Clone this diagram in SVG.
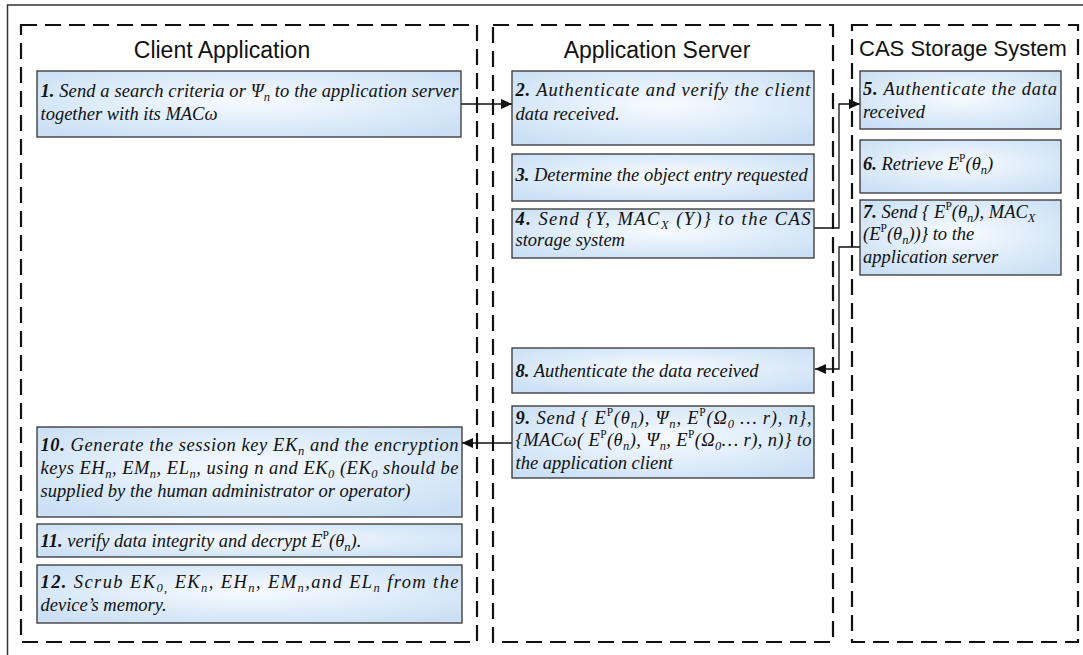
<svg xmlns="http://www.w3.org/2000/svg" width="1083" height="655" viewBox="0 0 1083 655">
<style>
.t{font-family:"Liberation Serif","Times New Roman",serif;font-style:italic;font-size:18.5px;fill:#111}
.b{font-weight:bold}
.sub{font-size:12.5px;baseline-shift:-4px}
.sup{font-size:11.5px;baseline-shift:8px;font-style:normal}
.title{font-family:"Liberation Sans",Arial,sans-serif;font-size:23px;fill:#111;text-anchor:middle}
.node rect{fill:url(#g);stroke:#333;stroke-width:1.3}
.lane{fill:none;stroke:#111;stroke-width:2.2;stroke-dasharray:16 8}
.conn{fill:none;stroke:#111;stroke-width:1.3}
.frame{fill:none;stroke:#333;stroke-width:1.5}
</style>
<defs>
<radialGradient id="g" cx="50%" cy="45%" r="65%">
<stop offset="0" stop-color="#f7fbff"/>
<stop offset="1" stop-color="#cbe0f5"/>
</radialGradient>
<marker id="arr" markerUnits="userSpaceOnUse" markerWidth="12" markerHeight="10" refX="11" refY="5" orient="auto">
<path d="M0,0 L11,5 L0,10 z" fill="#111"/>
</marker>
</defs>
<rect width="1083" height="655" fill="#fff"/>
<path class="frame" d="M7.5,655 V5 H1083"/>

<g id="lanes">
<g id="lane-client"><rect class="lane" x="21" y="25" width="456" height="617"/><text class="title" x="222" y="58">Client Application</text></g>
<g id="lane-server"><rect class="lane" x="493" y="25" width="340" height="617"/><text class="title" x="657" y="58">Application Server</text></g>
<g id="lane-cas"><rect class="lane" x="852" y="25" width="226" height="617"/><text class="title" x="963" y="56" style="font-size:22px">CAS Storage System</text></g>
</g>

<g id="connectors">
<path class="conn" d="M461,104 H512" marker-end="url(#arr)"/>
<path class="conn" d="M814,228 H839 V104 H860" marker-end="url(#arr)"/>
<path class="conn" d="M860,247 H839 V369 H815" marker-end="url(#arr)"/>
<path class="conn" d="M512,443 H462" marker-end="url(#arr)"/>
</g>

<g id="n1" class="node"><rect x="37" y="71" width="424" height="66"/>
<text class="t" x="40.5" y="97" textLength="418" lengthAdjust="spacing"><tspan class="b">1.</tspan> Send a search criteria or Ψ<tspan class="sub">n</tspan> to the application server</text>
<text class="t" x="40.5" y="120">together with its MACω</text></g>

<g id="n2" class="node"><rect x="512" y="71" width="302" height="74"/>
<text class="t" x="515.5" y="96" textLength="295" lengthAdjust="spacing"><tspan class="b">2.</tspan> Authenticate and verify the client</text>
<text class="t" x="515.5" y="120">data received.</text></g>

<g id="n3" class="node"><rect x="512" y="154" width="302" height="47"/>
<text class="t" x="515.5" y="181"><tspan class="b">3.</tspan> Determine the object entry requested</text></g>

<g id="n4" class="node"><rect x="512" y="209" width="302" height="49"/>
<text class="t" x="515.5" y="225" textLength="295" lengthAdjust="spacing"><tspan class="b">4.</tspan> Send {Y, MAC<tspan class="sub">X</tspan> (Y)} to the CAS</text>
<text class="t" x="515.5" y="246">storage system</text></g>

<g id="n5" class="node"><rect x="860" y="71" width="201" height="58"/>
<text class="t" x="863" y="95" textLength="194" lengthAdjust="spacing"><tspan class="b">5.</tspan> Authenticate the data</text>
<text class="t" x="863" y="118">received</text></g>

<g id="n6" class="node"><rect x="860" y="140" width="201" height="53"/>
<text class="t" x="863" y="170"><tspan class="b">6.</tspan> Retrieve E<tspan class="sup">P</tspan>(θ<tspan class="sub">n</tspan>)</text></g>

<g id="n7" class="node"><rect x="860" y="200" width="201" height="75"/>
<text class="t" x="863" y="218"><tspan class="b">7.</tspan> Send { E<tspan class="sup">P</tspan>(θ<tspan class="sub">n</tspan>), MAC<tspan class="sub">X</tspan></text>
<text class="t" x="863" y="240">(E<tspan class="sup">P</tspan>(θ<tspan class="sub">n</tspan>))} to the</text>
<text class="t" x="863" y="263">application server</text></g>

<g id="n8" class="node"><rect x="512" y="348" width="302" height="45"/>
<text class="t" x="515.5" y="377"><tspan class="b">8.</tspan> Authenticate the data received</text></g>

<g id="n9" class="node"><rect x="512" y="406" width="302" height="72"/>
<text class="t" x="515.5" y="424" textLength="296" lengthAdjust="spacing"><tspan class="b">9.</tspan> Send { E<tspan class="sup">P</tspan>(θ<tspan class="sub">n</tspan>),  Ψ<tspan class="sub">n</tspan>, E<tspan class="sup">P</tspan>(Ω<tspan class="sub">0</tspan> …  r), n},</text>
<text class="t" x="515.5" y="446" textLength="296" lengthAdjust="spacing">{MACω( E<tspan class="sup">P</tspan>(θ<tspan class="sub">n</tspan>), Ψ<tspan class="sub">n</tspan>, E<tspan class="sup">P</tspan>(Ω<tspan class="sub">0</tspan>… r), n)} to</text>
<text class="t" x="515.5" y="469">the application client</text></g>

<g id="n10" class="node"><rect x="37" y="427" width="425" height="90"/>
<text class="t" x="40.5" y="451" textLength="418" lengthAdjust="spacing"><tspan class="b">10.</tspan> Generate the session key EK<tspan class="sub">n</tspan> and the encryption</text>
<text class="t" x="40.5" y="474" textLength="418" lengthAdjust="spacing">keys EH<tspan class="sub">n</tspan>, EM<tspan class="sub">n</tspan>, EL<tspan class="sub">n</tspan>, using n and EK<tspan class="sub">0</tspan> (EK<tspan class="sub">0</tspan> should be</text>
<text class="t" x="40.5" y="497">supplied by the human administrator or operator)</text></g>

<g id="n11" class="node"><rect x="37" y="524" width="425" height="33"/>
<text class="t" x="40.5" y="547"><tspan class="b">11.</tspan> verify data integrity and decrypt E<tspan class="sup">P</tspan>(θ<tspan class="sub">n</tspan>).</text></g>

<g id="n12" class="node"><rect x="37" y="565" width="425" height="58"/>
<text class="t" x="40.5" y="588" textLength="418" lengthAdjust="spacing"><tspan class="b">12.</tspan> Scrub EK<tspan class="sub">0,</tspan> EK<tspan class="sub">n</tspan>, EH<tspan class="sub">n</tspan>, EM<tspan class="sub">n</tspan>,and EL<tspan class="sub">n</tspan> from the</text>
<text class="t" x="40.5" y="611">device’s memory.</text></g>
</svg>
